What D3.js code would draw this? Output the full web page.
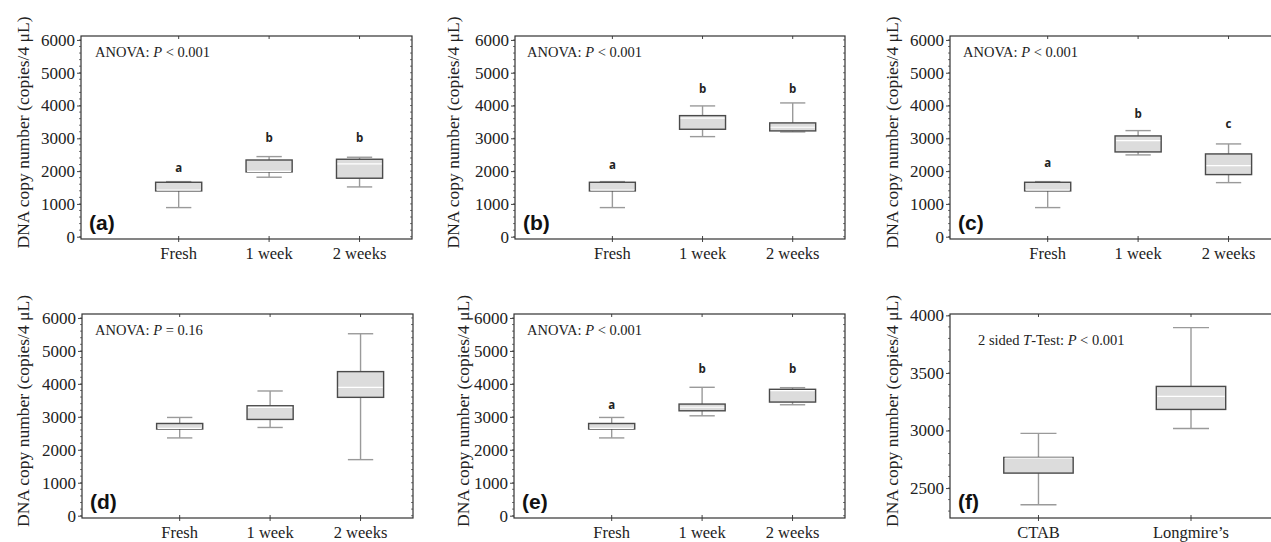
<!DOCTYPE html>
<html>
<head>
<meta charset="utf-8">
<script src="https://cdn.jsdelivr.net/npm/d3@7"></script>
<style>
  body { margin: 0; background: #fff; }
  svg { display: block; }
  .tick-label, .cat-label, .y-title, .stat-text { font-family: "Liberation Serif", "Times New Roman", serif; fill: #222; }
  .panel-label { font-family: "Liberation Sans", Arial, sans-serif; font-weight: bold; fill: #111; }
  .group-letter { font-family: "Open Sans", "DejaVu Sans", sans-serif; font-weight: bold; fill: #222; }
</style>
</head>
<body>
<div id="chart"></div>
<script>
// categories
const timeGroups = ["Fresh", "1 week", "2 weeks"];
const methodGroups = ["CTAB", "Longmire\u2019s"];

// y ticks
const ticksCount = [0, 1000, 2000, 3000, 4000, 5000, 6000];
const ticksF = [2500, 3000, 3500, 4000];

// (a)
const aLow = [888, 1814, 1518];
const aQ1 = [1396, 1976, 1783];
const aMed = [1420, 1990, 2220];
const aQ3 = [1660, 2339, 2362];
const aHigh = [1680, 2443, 2423];
const aLetters = ["a", "b", "b"];
const aLetterAt = [2090, 3010, 3010];

// (b)
const bLow = [888, 3052, 3195];
const bQ1 = [1396, 3276, 3226];
const bMed = [1420, 3613, 3338];
const bQ3 = [1660, 3692, 3470];
const bHigh = [1680, 3988, 4079];
const bLetters = ["a", "b", "b"];
const bLetterAt = [2186, 4497, 4497];

// (c)
const cLow = [888, 2494, 1649];
const cQ1 = [1396, 2585, 1894];
const cMed = [1420, 2930, 2168];
const cQ3 = [1660, 3073, 2524];
const cHigh = [1680, 3235, 2829];
const cLetters = ["a", "b", "c"];
const cLetterAt = [2241, 3744, 3439];

// (d)
const dLow = [2360, 2677, 1701];
const dQ1 = [2630, 2921, 3591];
const dMed = [2650, 3286, 3896];
const dQ3 = [2798, 3336, 4372];
const dHigh = [2981, 3784, 5521];

// (e)
const eLow = [2360, 3031, 3366];
const eQ1 = [2630, 3183, 3448];
const eMed = [2650, 3290, 3793];
const eQ3 = [2798, 3387, 3835];
const eHigh = [2981, 3896, 3885];
const eLetters = ["a", "b", "b"];
const eLetterAt = [3357, 4454, 4454];

// (f)
const fLow = [2355, 3018];
const fQ1 = [2630, 3183];
const fMed = [2760, 3297];
const fQ3 = [2766, 3383];
const fHigh = [2975, 3894];

const W = 1271, H = 542;

const svg = d3.select("#chart").append("svg")
  .attr("width", W)
  .attr("height", H);

function pack(cats, low, q1, med, q3, high, letters, letterAt) {
  return cats.map(function(c, i) {
    return {
      cat: c, i: i, low: low[i], q1: q1[i], med: med[i], q3: q3[i], high: high[i],
      letter: letters ? letters[i] : null,
      letterAt: letterAt ? letterAt[i] : null
    };
  });
}

const panels = [
  { label: "(a)", left: 81, top: 36, w: 331, h: 203, titleX: 23, yDom: [-70, 6120], xDom: [-1.08, 2.58],
    ticks: ticksCount, minor: 200, boxW: 0.51, capW: 0.28, statX: 14, statY: 21,
    stat: ["ANOVA: ", "P", " < 0.001"],
    data: pack(timeGroups, aLow, aQ1, aMed, aQ3, aHigh, aLetters, aLetterAt) },
  { label: "(b)", left: 515, top: 36, w: 330, h: 203, titleX: 453, yDom: [-70, 6120], xDom: [-1.08, 2.58],
    ticks: ticksCount, minor: 200, boxW: 0.51, capW: 0.28, statX: 12, statY: 21,
    stat: ["ANOVA: ", "P", " < 0.001"],
    data: pack(timeGroups, bLow, bQ1, bMed, bQ3, bHigh, bLetters, bLetterAt) },
  { label: "(c)", left: 950, top: 36, w: 331, h: 203, titleX: 892, yDom: [-70, 6120], xDom: [-1.08, 2.58],
    ticks: ticksCount, minor: 200, boxW: 0.51, capW: 0.28, statX: 13, statY: 21,
    stat: ["ANOVA: ", "P", " < 0.001"],
    data: pack(timeGroups, cLow, cQ1, cMed, cQ3, cHigh, cLetters, cLetterAt) },
  { label: "(d)", left: 82, top: 314, w: 331, h: 204, titleX: 23, yDom: [-70, 6120], xDom: [-1.08, 2.58],
    ticks: ticksCount, minor: 200, boxW: 0.51, capW: 0.28, statX: 13, statY: 21,
    stat: ["ANOVA: ", "P", " = 0.16"],
    data: pack(timeGroups, dLow, dQ1, dMed, dQ3, dHigh, null, null) },
  { label: "(e)", left: 514, top: 314, w: 331, h: 204, titleX: 463, yDom: [-70, 6120], xDom: [-1.08, 2.58],
    ticks: ticksCount, minor: 200, boxW: 0.51, capW: 0.28, statX: 13, statY: 21,
    stat: ["ANOVA: ", "P", " < 0.001"],
    data: pack(timeGroups, eLow, eQ1, eMed, eQ3, eHigh, eLetters, eLetterAt) },
  { label: "(f)", left: 950, top: 314, w: 331, h: 204, titleX: 892, yDom: [2240, 4012], xDom: [-0.58, 1.59],
    ticks: ticksF, minor: 100, boxW: 0.455, capW: 0.236, statX: 28, statY: 31,
    stat: ["2 sided ", "T", "-Test: ", "P", " < 0.001"],
    data: pack(methodGroups, fLow, fQ1, fMed, fQ3, fHigh, null, null) }
];

panels.forEach(drawPanel);

function drawPanel(p) {
  const x = d3.scaleLinear().domain(p.xDom).range([0, p.w]);
  const y = d3.scaleLinear().domain(p.yDom).range([p.h, 0]);
  const unit = x(1) - x(0);

  const g = svg.append("g").attr("transform", "translate(" + p.left + "," + p.top + ")");

  // minor ticks on left and right edges
  const minors = d3.range(Math.ceil(p.yDom[0] / p.minor) * p.minor, p.yDom[1], p.minor);
  g.selectAll(".minor-l").data(minors).enter().append("line")
    .attr("x1", -2).attr("x2", 0)
    .attr("y1", d => y(d)).attr("y2", d => y(d))
    .attr("stroke", "#555").attr("stroke-width", 0.8);
  g.selectAll(".minor-r").data(minors).enter().append("line")
    .attr("x1", p.w - 2).attr("x2", p.w)
    .attr("y1", d => y(d)).attr("y2", d => y(d))
    .attr("stroke", "#555").attr("stroke-width", 0.8);

  // left axis
  const yAxis = d3.axisLeft(y).tickValues(p.ticks).tickSize(4).tickPadding(2).tickFormat(d3.format("d"));
  const ya = g.append("g").call(yAxis);
  ya.select(".domain").remove();
  ya.selectAll(".tick line").attr("stroke", "#444");
  ya.selectAll(".tick text").attr("class", "tick-label").style("font-size", "17px").attr("fill", null);

  // category ticks top and bottom
  g.selectAll(".xt-b").data(p.data).enter().append("line")
    .attr("x1", d => x(d.i)).attr("x2", d => x(d.i))
    .attr("y1", p.h - 3).attr("y2", p.h + 3)
    .attr("stroke", "#444");
  g.selectAll(".xt-t").data(p.data).enter().append("line")
    .attr("x1", d => x(d.i)).attr("x2", d => x(d.i))
    .attr("y1", 0).attr("y2", 3)
    .attr("stroke", "#444");

  // frame
  g.append("rect")
    .attr("x", 0).attr("y", 0).attr("width", p.w).attr("height", p.h)
    .attr("fill", "none").attr("stroke", "#333").attr("stroke-width", 1.2);

  // category labels
  g.selectAll(".cat-label").data(p.data).enter().append("text")
    .attr("class", "cat-label")
    .attr("x", d => x(d.i))
    .attr("y", p.h + 20)
    .attr("text-anchor", "middle")
    .style("font-size", "16.5px")
    .text(d => d.cat);

  // boxes
  const bw = p.boxW * unit, cw = p.capW * unit;
  const box = g.selectAll(".box").data(p.data).enter().append("g");
  box.append("line")
    .attr("x1", d => x(d.i)).attr("x2", d => x(d.i))
    .attr("y1", d => y(d.low)).attr("y2", d => y(d.q1))
    .attr("stroke", "#9a9a9a").attr("stroke-width", 1.4);
  box.append("line")
    .attr("x1", d => x(d.i)).attr("x2", d => x(d.i))
    .attr("y1", d => y(d.q3)).attr("y2", d => y(d.high))
    .attr("stroke", "#9a9a9a").attr("stroke-width", 1.4);
  box.append("line")
    .attr("x1", d => x(d.i) - cw / 2).attr("x2", d => x(d.i) + cw / 2)
    .attr("y1", d => y(d.low)).attr("y2", d => y(d.low))
    .attr("stroke", "#9a9a9a").attr("stroke-width", 1.4);
  box.append("line")
    .attr("x1", d => x(d.i) - cw / 2).attr("x2", d => x(d.i) + cw / 2)
    .attr("y1", d => y(d.high)).attr("y2", d => y(d.high))
    .attr("stroke", "#9a9a9a").attr("stroke-width", 1.4);
  box.append("rect")
    .attr("x", d => x(d.i) - bw / 2)
    .attr("y", d => y(d.q3))
    .attr("width", bw)
    .attr("height", d => y(d.q1) - y(d.q3))
    .attr("fill", "#dcdcdc")
    .attr("stroke", "#4a4a4a")
    .attr("stroke-width", 1.4);
  box.append("line")
    .attr("x1", d => x(d.i) - bw / 2 + 1).attr("x2", d => x(d.i) + bw / 2 - 1)
    .attr("y1", d => y(d.med)).attr("y2", d => y(d.med))
    .attr("stroke", "#fff").attr("stroke-width", 1.2);

  // group letters
  g.selectAll(".group-letter").data(p.data.filter(d => d.letter)).enter().append("text")
    .attr("class", "group-letter")
    .attr("x", d => x(d.i))
    .attr("y", d => y(d.letterAt))
    .attr("dy", "0.35em")
    .attr("text-anchor", "middle")
    .style("font-size", "11.5px")
    .text(d => d.letter);

  // test statistic
  const st = g.append("text")
    .attr("class", "stat-text")
    .attr("x", p.statX)
    .attr("y", p.statY)
    .style("font-size", "14.5px");
  p.stat.forEach(function(s) {
    st.append("tspan")
      .style("font-style", (s === "P" || s === "T") ? "italic" : "normal")
      .text(s);
  });

  // panel label
  g.append("text")
    .attr("class", "panel-label")
    .attr("x", 8)
    .attr("y", p.h - 9)
    .style("font-size", "21px")
    .text(p.label);

  // y title
  svg.append("text")
    .attr("class", "y-title")
    .attr("transform", "translate(" + p.titleX + "," + (p.top + p.h / 2 - 5) + ") rotate(-90)")
    .attr("text-anchor", "middle")
    .attr("dy", "0.35em")
    .style("font-size", "17.5px")
    .text("DNA copy number (copies/4 \u03bcL)");
}
</script>
</body>
</html>
